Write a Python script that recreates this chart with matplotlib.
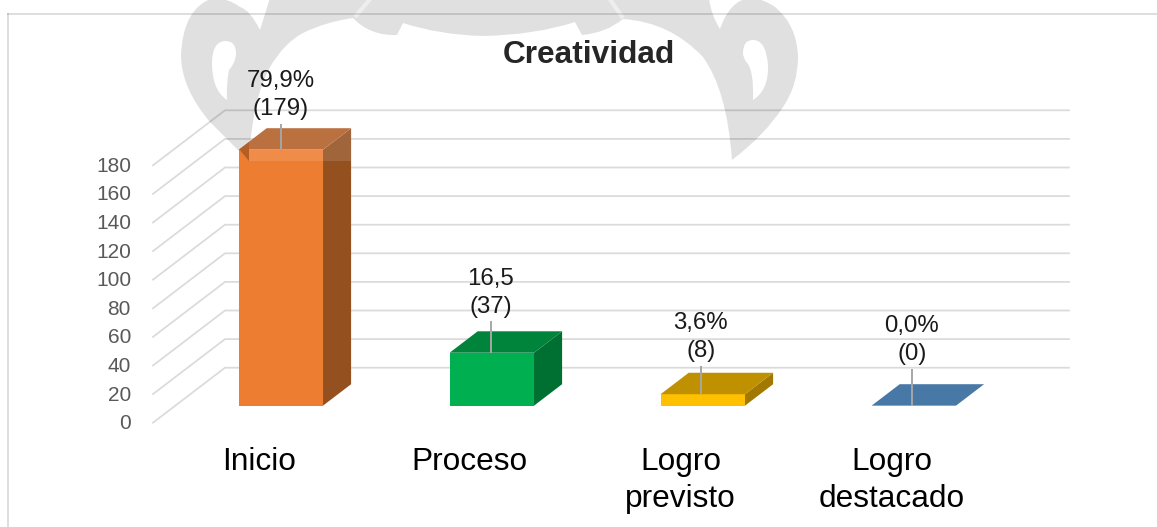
import matplotlib
matplotlib.use("Agg")
import matplotlib.pyplot as plt
from matplotlib.patches import Polygon, PathPatch, Rectangle
from matplotlib.path import Path

plt.rcParams["font.family"] = ["Liberation Sans", "DejaVu Sans"]

# ── Data ───────────────────────────────────────────────────────────────────
categories = ["Inicio", "Proceso", "Logro\nprevisto", "Logro\ndestacado"]
counts = [179, 37, 8, 0]
pct_labels = ["79,9%", "16,5", "3,6%", "0,0%"]
count_labels = ["(179)", "(37)", "(8)", "(0)"]
y_ticks = [0, 20, 40, 60, 80, 100, 120, 140, 160, 180]
title = "Creatividad"

# front / top / side colours of each bar
front_cols = ["#ED7D31", "#00B050", "#FFC000", "#4878A6"]
top_cols = ["#B25E25", "#00843C", "#BF9000", "#4878A6"]
side_cols = ["#955020", "#006F32", "#A17900", "#4878A6"]

# leader length, label height above the bar top, and sideways shift, in pixels
leader_px = [26, 32, 28, 37]
label_px = [41, 46, 43, 52]
shift_px = [0, -1, -2, -2]

# ── Layout ─────────────────────────────────────────────────────────────────
W, H = 1157, 527
PX_X = 211.0       # pixels per category
PX_Y = 1.43        # pixels per count
X0_PX = 153.0      # front left corner of the floor
Y0_PX = 422.7      # front floor line
DEPTH_X = 72 / PX_X
DEPTH_Y = 55 / PX_Y
BAR_HALF = 0.2
D1, D2 = 0.31, 0.70


def proj(cat, depth, val):
    # oblique projection of the 3D column chart on to the flat axes
    return cat + depth * DEPTH_X, val + depth * DEPTH_Y


def curve_path(start, segments):
    # closed outline; a segment is (control, end) or a single end point for a straight line
    verts, codes = [start], [Path.MOVETO]
    for seg in segments:
        if len(seg) == 2 and isinstance(seg[0], tuple):
            verts += [seg[0], seg[1]]
            codes += [Path.CURVE3, Path.CURVE3]
        else:
            verts.append(seg)
            codes.append(Path.LINETO)
    verts.append(start)
    codes.append(Path.CLOSEPOLY)
    return verts, codes


fig = plt.figure(figsize=(W / 100, H / 100), dpi=100, facecolor="white")

# background layer in pixels: frame and watermark
bg = fig.add_axes([0, 0, 1, 1], zorder=0)
bg.set_xlim(0, W)
bg.set_ylim(H, 0)
bg.set_axis_off()

outer = curve_path((213, -2), [
    ((183, 8), (181, 55)), ((181, 88), (210, 122)), (240, 152), (249, 161),
    ((252, 100), (270, 67)), ((285, 42), (303, 33)), ((325, 22), (353, 18)),
    ((370, 36), (397, 35)), (403, 23), ((440, 35), (483, 36)), ((535, 35), (575, 22)),
    (582, 35), ((606, 33), (623, 19)), ((670, 22), (703, 57)), ((727, 90), (732, 160)),
    ((765, 135), (783, 107)), ((798, 85), (798, 57)), ((797, 25), (775, 7)),
    ((762, -2), (750, -2)), ((730, 0), (720, 29)), ((711, 15), (709, -2)),
    (270, -2), (260, 30), ((250, 10), (240, 7)), ((228, -2), (213, -2)),
])
hole_left = curve_path((225, 41), [
    ((236, 41), (236, 53)), ((236, 62), (229, 70)), ((226, 85), (227, 100)),
    ((212, 90), (212, 63)), ((212, 42), (225, 41)),
])
hole_right = curve_path((753, 40), [
    ((766, 40), (768, 65)), ((769, 90), (753, 100)), ((754, 70), (747, 63)),
    ((743, 58), (743, 53)), ((743, 40), (753, 40)),
])
verts = outer[0] + hole_left[0] + hole_right[0]
codes = outer[1] + hole_left[1] + hole_right[1]
bg.add_patch(PathPatch(Path(verts, codes), facecolor="#E0E0E0", edgecolor="none"))

# thin light slits in the top of the watermark
bg.plot([355, 371], [17, -2], color="#EEEEEE", lw=3, solid_capstyle="butt")
bg.plot([609, 623], [-2, 18], color="#EEEEEE", lw=3, solid_capstyle="butt")

# chart frame
frame_col = (0, 0, 0, 0.14)
bg.plot([8, W], [14, 14], color=frame_col, lw=1.3)
bg.plot([8, 8], [14, H], color=frame_col, lw=1.3)

# main layer in categories / counts
ax = fig.add_axes([0, 0, 1, 1], zorder=1)
ax.set_xlim(0.5 - X0_PX / PX_X, 0.5 + (W - X0_PX) / PX_X)
ax.set_ylim(-(H - Y0_PX) / PX_Y, Y0_PX / PX_Y)
ax.patch.set_alpha(0)
ax.set_axis_off()

n_cat = len(categories)
grid_col = (0, 0, 0, 0.14)
for t in y_ticks:
    x_f, y_f = proj(0.5, 0, t)
    x_b, y_b = proj(0.5, 1, t)
    x_e, y_e = proj(0.5 + n_cat, 1, t)
    ax.plot([x_f, x_b, x_e], [y_f, y_b, y_e], color=grid_col, lw=1.3, zorder=1)
    ax.text(x_f - 22 / PX_X, t - 1 / PX_Y, str(t), ha="right", va="center",
            fontsize=15, color="#595959")

for i, (v, fc, tc, sc) in enumerate(zip(counts, front_cols, top_cols, side_cols)):
    cat = i + 1
    xl, xr = cat - BAR_HALF, cat + BAR_HALF
    front = [proj(xl, D1, 0), proj(xr, D1, 0), proj(xr, D1, v), proj(xl, D1, v)]
    side = [proj(xr, D1, 0), proj(xr, D2, 0), proj(xr, D2, v), proj(xr, D1, v)]
    top = [proj(xl, D1, v), proj(xr, D1, v), proj(xr, D2, v), proj(xl, D2, v)]
    ax.add_patch(Polygon(front, facecolor=fc, edgecolor="none", zorder=3))
    ax.add_patch(Polygon(side, facecolor=sc, edgecolor="none", zorder=3))
    ax.add_patch(Polygon(top, facecolor=tc, edgecolor="none", zorder=3))

    # watermark showing over the top of the tall bar
    if v > 150:
        sil = Polygon(front[:2] + [side[1], side[2], top[2], top[3], top[0]],
                      transform=ax.transData, facecolor="none", edgecolor="none")
        ax.add_patch(sil)
        veil = Rectangle((249, 120), 105, 41, transform=bg.transData,
                         facecolor="white", alpha=0.12, edgecolor="none", zorder=4)
        ax.add_patch(veil)
        veil.set_clip_path(sil)
        dark = Polygon([(238.7, 149.3), (249, 149.3), (249, 161)],
                       transform=bg.transData, facecolor=tc, edgecolor="none", zorder=4)
        ax.add_patch(dark)

    # leader and data label
    x_lab, y_top = proj(cat, D1, v)
    x_lab += shift_px[i] / PX_X
    ax.plot([x_lab, x_lab], [y_top, y_top + leader_px[i] / PX_Y],
            color="#A6A6A6", lw=1.4, zorder=5, solid_capstyle="butt")
    y_lab = y_top + label_px[i] / PX_Y
    ax.text(x_lab, y_lab, count_labels[i], ha="center", va="center",
            fontsize=17.3, color="#1A1A1A", zorder=6)
    ax.text(x_lab, y_lab + 28 / PX_Y, pct_labels[i], ha="center", va="center",
            fontsize=17.3, color="#1A1A1A", zorder=6)

    # category label on the front floor edge
    ax.text(cat + 0.3 / PX_X, proj(cat, 0, 0)[1] - 24 / PX_Y, categories[i], ha="center", va="top",
            fontsize=22.8, color="black", linespacing=1.32, zorder=6)

bg.text(589, 55, title, ha="center", va="center", fontsize=22.8,
        fontweight="bold", color="#262626")

fig.savefig("out.png", dpi=100)
plt.close(fig)
